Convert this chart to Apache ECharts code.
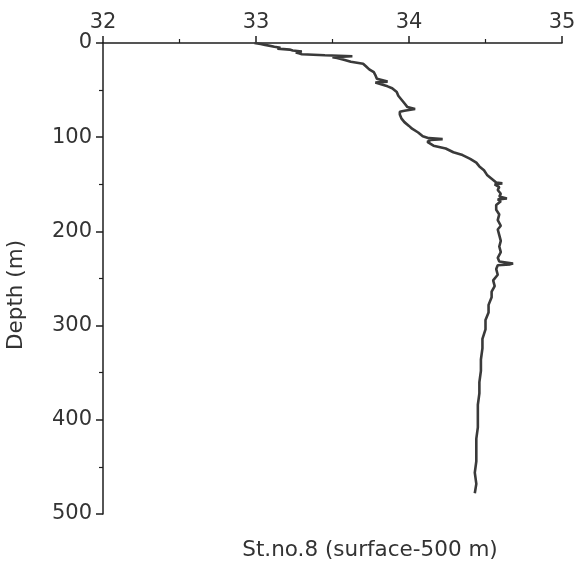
<!DOCTYPE html>
<html>
<head>
<meta charset="utf-8">
<script src="https://cdn.jsdelivr.net/npm/echarts@6/dist/echarts.min.js"></script>
<style>html,body{margin:0;padding:0;background:#fff}#c{width:579px;height:569px}</style>
</head>
<body>
<div id="c"></div>
<script>
var xTicks = [32, 33, 34, 35];
var yTicks = [0, 100, 200, 300, 400, 500];
var depth = [0,1,2,3,4,5,6,7,8,9,10,11,12,13,14,15,16,18,20,22,25,28,31,34,38,40,41,42,44,46,48,52,56,60,64,68,70,71,72,73,76,80,84,88,91,95,99,101,102,103,105,109,112,116,119,123,127,131,135,140,144,148,149,150,153,156,160,163,165,166,168,172,177,182,188,194,198,204,210,216,222,228,232,234,235,236,240,246,252,258,264,270,278,286,294,304,314,324,336,348,360,372,384,396,408,420,432,444,456,468,478];
var salinity = [32.99,33.03,33.06,33.05,33.12,33.16,33.14,33.22,33.24,33.30,33.26,33.28,33.30,33.45,33.63,33.50,33.53,33.58,33.62,33.70,33.72,33.74,33.77,33.78,33.79,33.80,33.86,33.78,33.77,33.86,33.89,33.92,33.93,33.95,33.97,33.99,34.04,34.05,33.97,33.94,33.94,33.95,33.97,34.00,34.02,34.06,34.09,34.13,34.22,34.14,34.12,34.16,34.24,34.29,34.35,34.40,34.44,34.46,34.49,34.51,34.54,34.57,34.61,34.56,34.59,34.58,34.60,34.59,34.64,34.58,34.60,34.57,34.57,34.59,34.58,34.60,34.58,34.59,34.60,34.59,34.60,34.58,34.59,34.68,34.66,34.58,34.57,34.58,34.55,34.56,34.54,34.54,34.52,34.52,34.50,34.50,34.48,34.48,34.47,34.47,34.46,34.46,34.45,34.45,34.45,34.44,34.44,34.44,34.43,34.44,34.43];
var stationLabel = 'St.no.8 (surface-500 m)';
var yName = 'Depth (m)';

var pts = depth.map(function (d, i) { return [salinity[i], d]; });
var chart = echarts.init(document.getElementById('c'), null, {renderer: 'canvas'});
var font = 'DejaVu Sans';
var axisCol = '#1e1e1e';
chart.setOption({
  animation: false,
  backgroundColor: '#fff',
  grid: {left: 103, right: 17, top: 43, bottom: 55},
  xAxis: {
    type: 'value', position: 'top',
    min: xTicks[0], max: xTicks[xTicks.length - 1], interval: 1,
    axisLine: {show: true, lineStyle: {color: axisCol, width: 1.5}},
    axisTick: {show: true, length: 7, lineStyle: {color: axisCol, width: 1.5}},
    minorTick: {show: true, splitNumber: 2, length: 4, lineStyle: {color: axisCol, width: 1.2}},
    splitLine: {show: false},
    axisLabel: {color: '#333', fontFamily: font, fontSize: 21, margin: 10}
  },
  yAxis: {
    type: 'value', inverse: true,
    min: yTicks[0], max: yTicks[yTicks.length - 1], interval: 100,
    axisLine: {show: true, lineStyle: {color: axisCol, width: 1.5}},
    axisTick: {show: true, length: 7, lineStyle: {color: axisCol, width: 1.5}},
    minorTick: {show: true, splitNumber: 2, length: 4, lineStyle: {color: axisCol, width: 1.2}},
    splitLine: {show: false},
    axisLabel: {color: '#333', fontFamily: font, fontSize: 21, margin: 11}
  },
  graphic: [{
    type: 'text', x: 370, y: 550,
    style: {text: stationLabel, fill: '#333', font: '21.5px "DejaVu Sans"', align: 'center', verticalAlign: 'middle'}
  }, {
    type: 'text', x: 16, y: 295, rotation: Math.PI / 2,
    style: {text: yName, fill: '#333', font: '21.5px "DejaVu Sans"', align: 'center', verticalAlign: 'middle'}
  }],
  series: [{
    type: 'line', data: pts, showSymbol: false, symbol: 'none',
    lineStyle: {color: '#3a3a3a', width: 2.6}
  }]
});
</script>
</body>
</html>
